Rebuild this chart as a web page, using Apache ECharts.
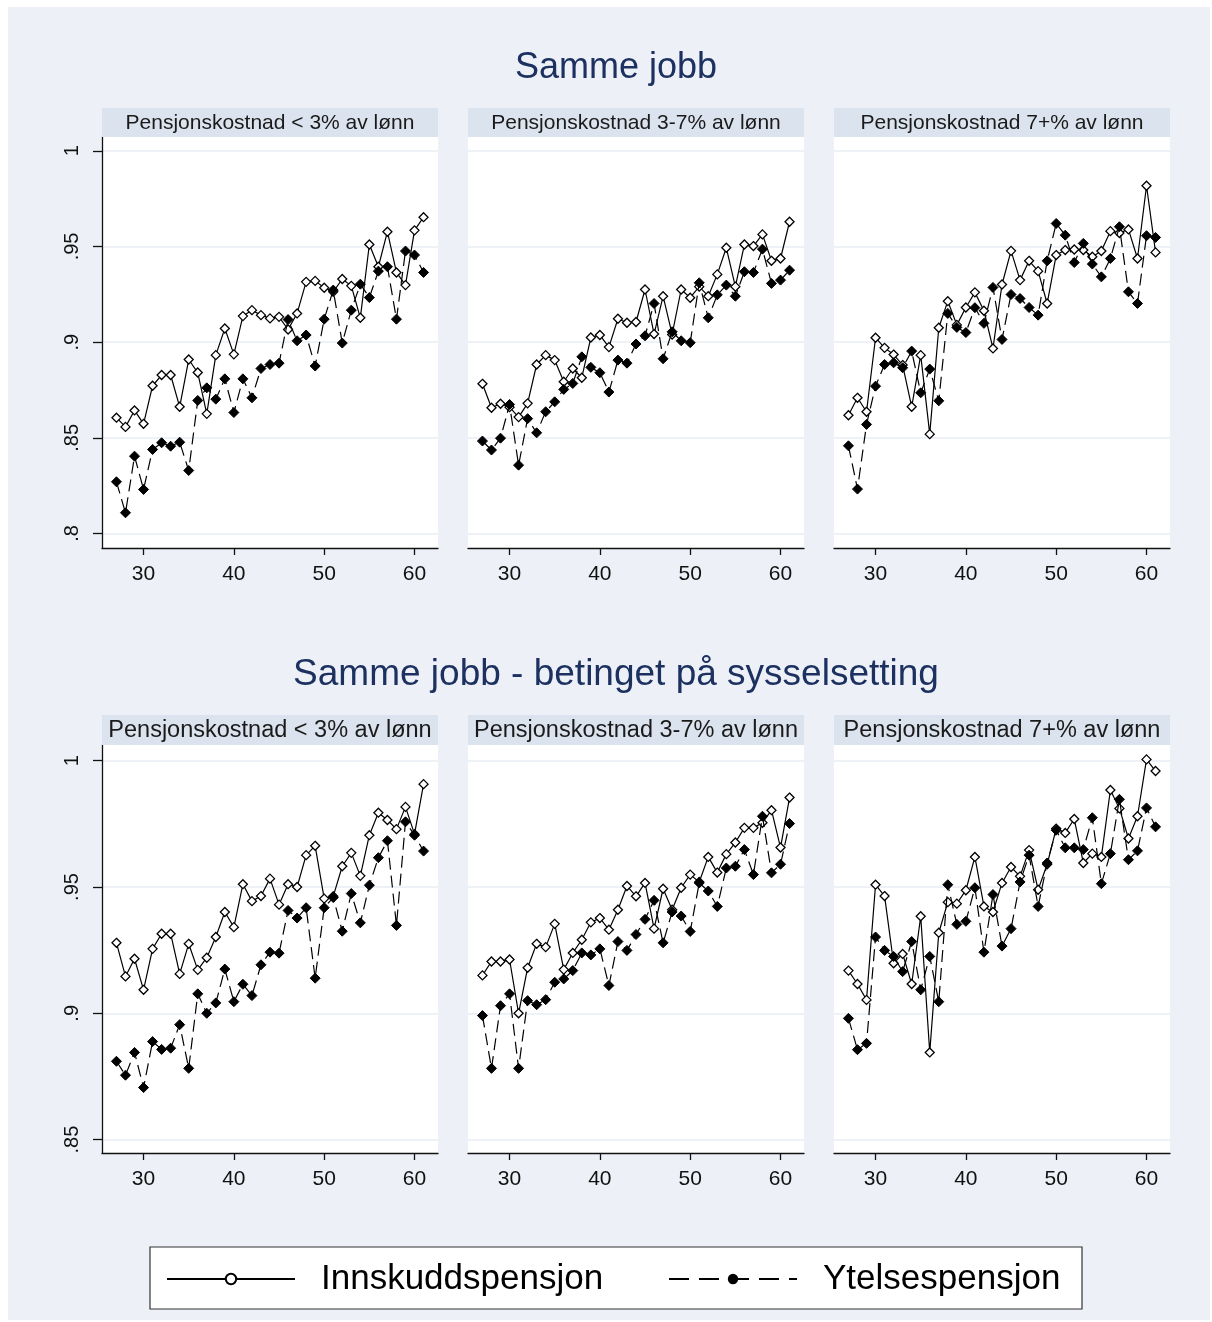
<!DOCTYPE html>
<html>
<head>
<meta charset="utf-8">
<script src="https://cdn.jsdelivr.net/npm/echarts@6/dist/echarts.min.js"></script>
<style>
  html, body { margin: 0; padding: 0; background: #fff; }
  #chart { width: 1212px; height: 1322px; }
</style>
</head>
<body>
<div id="chart"></div>
<script>
const ages = [27, 28, 29, 30, 31, 32, 33, 34, 35, 36, 37, 38, 39, 40, 41, 42, 43, 44,
  45, 46, 47, 48, 49, 50, 51, 52, 53, 54, 55, 56, 57, 58, 59, 60, 61];

const rowTitles = ["Samme jobb", "Samme jobb - betinget på sysselsetting"];
const panelTitles = ["Pensjonskostnad < 3% av lønn", "Pensjonskostnad 3-7% av lønn", "Pensjonskostnad 7+% av lønn"];
const seriesNames = ["Innskuddspensjon", "Ytelsespensjon"];
const xTicks = [30, 40, 50, 60];
const yTicksTop = [0.8, 0.85, 0.9, 0.95, 1];
const yTicksBottom = [0.85, 0.9, 0.95, 1];

// Samme jobb
const sammeLavInnskudd = [0.8605, 0.8557, 0.8643, 0.8573, 0.8772, 0.8828, 0.8828, 0.8662, 0.8909, 0.8841, 0.8625, 0.8932,
  0.9071, 0.8936, 0.9136, 0.9167, 0.9141, 0.9124, 0.9132, 0.9066, 0.915, 0.9315, 0.932, 0.9284, 0.9263, 0.933,
  0.9294, 0.9127, 0.951, 0.9394, 0.9577, 0.9364, 0.9298, 0.9584, 0.9653];
const sammeLavYtelse = [0.827, 0.8108, 0.8404, 0.823, 0.8439, 0.8474, 0.8456, 0.8477, 0.8329, 0.8695, 0.8761, 0.8702,
  0.8808, 0.8632, 0.8808, 0.8709, 0.8862, 0.8883, 0.889, 0.9118, 0.9007, 0.9037, 0.8875, 0.912, 0.9272, 0.8995,
  0.9167, 0.9303, 0.9233, 0.9371, 0.9394, 0.912, 0.9476, 0.9455, 0.9364];
const sammeMidInnskudd = [0.8782, 0.8657, 0.8678, 0.866, 0.8608, 0.868, 0.8883, 0.8932, 0.8906, 0.8793, 0.8862, 0.8814,
  0.9024, 0.9037, 0.8974, 0.9122, 0.9101, 0.9105, 0.9275, 0.9042, 0.924, 0.904, 0.9275, 0.9232, 0.929, 0.924,
  0.9354, 0.9493, 0.929, 0.951, 0.9502, 0.9563, 0.9425, 0.9437, 0.9629];
const sammeMidYtelse = [0.8483, 0.8436, 0.8498, 0.8674, 0.8357, 0.86, 0.8526, 0.8636, 0.8688, 0.8753, 0.8784, 0.8923,
  0.8868, 0.884, 0.8739, 0.8906, 0.889, 0.899, 0.9033, 0.9202, 0.8913, 0.9054, 0.9007, 0.8997, 0.931, 0.9127,
  0.9247, 0.9298, 0.924, 0.9368, 0.9364, 0.9486, 0.9307, 0.9324, 0.9376];
const sammeHoyInnskudd = [0.8618, 0.8709, 0.8636, 0.9023, 0.897, 0.8935, 0.888, 0.8662, 0.8932, 0.8519, 0.9075, 0.9214,
  0.909, 0.9181, 0.926, 0.9164, 0.8967, 0.9301, 0.9477, 0.9324, 0.9425, 0.9371, 0.9202, 0.9455, 0.9481, 0.9484,
  0.9481, 0.9446, 0.9476, 0.958, 0.957, 0.9589, 0.9437, 0.9817, 0.9469];
const sammeHoyYtelse = [0.8458, 0.8232, 0.857, 0.877, 0.8883, 0.8892, 0.8866, 0.8953, 0.8735, 0.8859, 0.8693, 0.915,
  0.9077, 0.905, 0.918, 0.9098, 0.9286, 0.9014, 0.9249, 0.9228, 0.9181, 0.9141, 0.9425, 0.962, 0.9559, 0.9416,
  0.9516, 0.9408, 0.9341, 0.9437, 0.9603, 0.9263, 0.9202, 0.9556, 0.9547];

// Samme jobb - betinget på sysselsetting
const syssLavInnskudd = [0.9279, 0.9146, 0.9216, 0.9093, 0.9255, 0.9315, 0.9315, 0.9156, 0.9275, 0.9172, 0.922, 0.9302,
  0.9401, 0.9341, 0.9511, 0.9444, 0.9464, 0.9533, 0.943, 0.9511, 0.95, 0.9626, 0.9663, 0.9454, 0.9463, 0.9582,
  0.9635, 0.9544, 0.9705, 0.9794, 0.9765, 0.9729, 0.9817, 0.9709, 0.9907];
const syssLavYtelse = [0.881, 0.8755, 0.8845, 0.8706, 0.8888, 0.8857, 0.8862, 0.8955, 0.8782, 0.9077, 0.9, 0.9041,
  0.9175, 0.9046, 0.9115, 0.907, 0.9192, 0.9242, 0.9238, 0.9407, 0.9377, 0.9418, 0.9139, 0.9418, 0.9458, 0.9325,
  0.9474, 0.9358, 0.9507, 0.9616, 0.9683, 0.9348, 0.9758, 0.9705, 0.9642];
const syssMidInnskudd = [0.915, 0.9205, 0.9205, 0.9213, 0.9, 0.918, 0.9275, 0.9262, 0.9354, 0.9173, 0.9239, 0.9291,
  0.936, 0.9377, 0.9331, 0.941, 0.9504, 0.9463, 0.9516, 0.9335, 0.9493, 0.941, 0.9497, 0.9549, 0.952, 0.9619,
  0.9557, 0.963, 0.9676, 0.9734, 0.9734, 0.9754, 0.9804, 0.9656, 0.9854];
const syssMidYtelse = [0.8991, 0.8782, 0.903, 0.9077, 0.8782, 0.905, 0.9034, 0.9054, 0.9123, 0.9136, 0.9169, 0.9239,
  0.9231, 0.9255, 0.911, 0.9284, 0.9249, 0.9312, 0.9372, 0.9447, 0.9279, 0.9401, 0.9385, 0.9324, 0.9516, 0.9484,
  0.9423, 0.9575, 0.9582, 0.9648, 0.9549, 0.978, 0.9556, 0.959, 0.9751];
const syssHoyInnskudd = [0.9169, 0.9116, 0.9053, 0.9509, 0.9464, 0.9198, 0.9235, 0.9116, 0.9384, 0.8845, 0.9319, 0.944,
  0.9434, 0.9487, 0.9619, 0.9423, 0.9401, 0.9516, 0.9579, 0.9542, 0.9646, 0.9489, 0.959, 0.9731, 0.9714, 0.9769,
  0.9595, 0.9632, 0.9619, 0.9884, 0.9811, 0.9692, 0.978, 1.0005, 0.9959];
const syssHoyYtelse = [0.898, 0.8856, 0.8881, 0.9302, 0.9249, 0.9225, 0.9165, 0.9284, 0.9093, 0.9225, 0.9046, 0.9509,
  0.9352, 0.9364, 0.9497, 0.9242, 0.947, 0.9266, 0.9335, 0.952, 0.9626, 0.9423, 0.9595, 0.9725, 0.9655, 0.9655,
  0.9648, 0.9774, 0.9513, 0.9632, 0.9847, 0.9608, 0.9643, 0.9813, 0.9738];

const panelData = [
  [[sammeLavInnskudd, sammeLavYtelse], [sammeMidInnskudd, sammeMidYtelse], [sammeHoyInnskudd, sammeHoyYtelse]],
  [[syssLavInnskudd, syssLavYtelse], [syssMidInnskudd, syssMidYtelse], [syssHoyInnskudd, syssHoyYtelse]],
];

const FONT = '"Liberation Sans", Arial, sans-serif';
const BG = "#edf1f7";
const STRIP = "#dbe3ee";
const NAVY = "#1d3160";
const GRIDLINE = "#e9eef5";

const colLefts = [102, 468, 834];
const colWidth = 336;
const rows = [
  { titleY: 68, titleFont: 36, stripTop: 108, stripHeight: 29, stripFont: 21, top: 137, height: 411,
    yMin: 0.7924, yMax: 1.0072, yTicks: yTicksTop },
  { titleY: 675, titleFont: 37, stripTop: 715, stripHeight: 30, stripFont: 23.5, top: 745, height: 408,
    yMin: 0.8447, yMax: 1.0062, yTicks: yTicksBottom },
];

function yLabel(value) {
  return value === 1 ? "1" : String(value).replace(/^0/, "");
}

const grids = [];
const xAxes = [];
const yAxes = [];
const series = [];
const graphics = [
  { type: "rect", z: -10, shape: { x: 8, y: 7, width: 1202, height: 1313 }, style: { fill: BG } },
];

// legend-only series (circle markers as in the legend key)
series.push({
  name: seriesNames[0], type: "line", data: [], xAxisIndex: 0, yAxisIndex: 0, symbol: "circle",
  lineStyle: { color: "#000", width: 2 },
  itemStyle: { color: "#fff", borderColor: "#000", borderWidth: 1.5 },
});
series.push({
  name: seriesNames[1], type: "line", data: [], xAxisIndex: 0, yAxisIndex: 0, symbol: "circle",
  lineStyle: { color: "#000", width: 2, type: [20, 10] },
  itemStyle: { color: "#000", borderColor: "#000" },
});

rows.forEach((row, r) => {
  graphics.push({
    type: "text", z: 5,
    style: { text: rowTitles[r], x: 616, y: row.titleY, align: "center", verticalAlign: "middle",
      fontSize: row.titleFont, fontFamily: FONT, fill: NAVY },
  });
  colLefts.forEach((left, c) => {
    const idx = grids.length;
    const firstCol = c === 0;
    graphics.push({
      type: "rect", z: 1,
      shape: { x: left, y: row.stripTop, width: colWidth, height: row.stripHeight },
      style: { fill: STRIP },
    });
    graphics.push({
      type: "text", z: 5,
      style: { text: panelTitles[c], x: left + colWidth / 2, y: row.stripTop + row.stripHeight / 2 + 1,
        align: "center", verticalAlign: "middle", fontSize: row.stripFont, fontFamily: FONT, fill: "#1a1a1a" },
    });
    grids.push({ left, top: row.top, width: colWidth, height: row.height,
      show: true, backgroundColor: "#fff", borderWidth: 0 });
    xAxes.push({
      type: "value", gridIndex: idx, min: 25.4, max: 62.6,
      axisLine: { show: true, lineStyle: { color: "#111", width: 1.3 } },
      axisTick: { show: true, length: 7, customValues: xTicks, lineStyle: { color: "#111", width: 1.3 } },
      axisLabel: { customValues: xTicks, margin: 16, fontSize: 21, fontFamily: FONT, color: "#111" },
      splitLine: { show: false },
    });
    yAxes.push({
      type: "value", gridIndex: idx, min: row.yMin, max: row.yMax,
      axisLine: { show: firstCol, lineStyle: { color: "#111", width: 1.3 } },
      axisTick: { show: firstCol, length: 9, customValues: row.yTicks, lineStyle: { color: "#111", width: 1.3 } },
      axisLabel: { show: firstCol, customValues: row.yTicks, rotate: 90, margin: 20, fontSize: 20,
        fontFamily: FONT, color: "#111", formatter: yLabel },
      splitLine: { show: true, lineStyle: { color: GRIDLINE, width: 1.5 } },
    });
    const [innskudd, ytelse] = panelData[r][c];
    series.push({
      name: seriesNames[0], type: "line", xAxisIndex: idx, yAxisIndex: idx,
      data: ages.map((a, i) => [a, innskudd[i]]),
      symbol: "diamond", symbolSize: 9,
      lineStyle: { color: "#000", width: 1.2 },
      itemStyle: { color: "#fff", borderColor: "#000", borderWidth: 1.3 },
      emphasis: { disabled: true }, animation: false, z: 3,
    });
    series.push({
      name: seriesNames[1], type: "line", xAxisIndex: idx, yAxisIndex: idx,
      data: ages.map((a, i) => [a, ytelse[i]]),
      symbol: "diamond", symbolSize: 10,
      lineStyle: { color: "#000", width: 1.2, type: [12, 6] },
      itemStyle: { color: "#000", borderColor: "#000" },
      emphasis: { disabled: true }, animation: false, z: 4,
    });
  });
});

// legend box
graphics.push({
  type: "rect", z: 1,
  shape: { x: 150, y: 1247, width: 932, height: 62 },
  style: { fill: "#fff", stroke: "#333", lineWidth: 1.2 },
});

const legendCommon = {
  orient: "horizontal", top: 1259, itemWidth: 128, itemHeight: 13, padding: 0,
  selectedMode: false, z: 10,
  textStyle: { fontSize: 35, fontFamily: FONT, color: "#000", padding: [0, 0, 0, 21], lineHeight: 40 },
};

const chart = echarts.init(document.getElementById("chart"), null, { renderer: "canvas" });
chart.setOption({
  backgroundColor: "#fff",
  animation: false,
  grid: grids,
  xAxis: xAxes,
  yAxis: yAxes,
  legend: [
    Object.assign({}, legendCommon, { left: 166, data: [seriesNames[0]] }),
    Object.assign({}, legendCommon, { left: 668, data: [seriesNames[1]] }),
  ],
  graphic: graphics,
  series,
});
</script>
</body>
</html>
